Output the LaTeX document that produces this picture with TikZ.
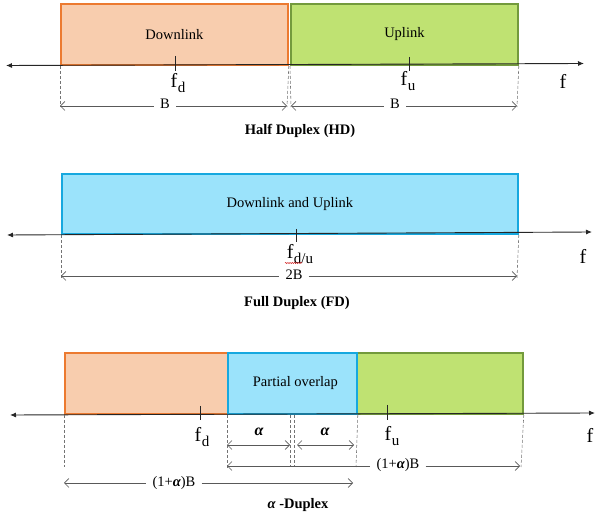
\documentclass[tikz,border=0pt]{standalone}
\usepackage{fontspec}
\setmainfont{Liberation Serif}
\usetikzlibrary{arrows.meta,decorations.pathmorphing}

\definecolor{dlfill}{HTML}{F8CDAE}
\definecolor{dldraw}{HTML}{EC7A30}
\definecolor{ulfill}{HTML}{BFE272}
\definecolor{uldraw}{HTML}{739A3C}
\definecolor{bothfill}{HTML}{9BE3FB}
\definecolor{bothdraw}{HTML}{16A8DF}

\newcommand{\freqlab}[1]{f\kern0.5pt\raisebox{-0.45ex}{\fontsize{15}{15}\selectfont #1}}
\newcommand{\balpha}{{\bfseries\itshape α}}

\begin{document}
\begin{tikzpicture}[x=1pt,y=-1pt,
  band/.style={line width=1.8pt, inner sep=0pt, anchor=north west,
    font=\fontsize{14.5}{16}\selectfont},
  axis/.style={line width=0.9pt, black!85, {Latex[length=6pt,width=5pt]}-{Latex[length=6pt,width=5pt]}},
  tick/.style={line width=0.7pt, black!85},
  guide/.style={densely dashed, black!55, line width=0.55pt},
  dim/.style={black!65, line width=0.7pt},
  dimL/.style={dim, {Straight Barb[length=4.5pt,width=9pt]}-},
  dimR/.style={dim, -{Straight Barb[length=4.5pt,width=9pt]}},
  dimLR/.style={dim, {Straight Barb[length=4.5pt,width=9pt]}-{Straight Barb[length=4.5pt,width=9pt]}},
  dimlab/.style={inner sep=6pt, font=\fontsize{14.5}{16}\selectfont},
  freq/.style={inner sep=0pt, font=\fontsize{20}{21}\selectfont},
  title/.style={font=\fontsize{14.5}{16}\selectfont\bfseries}]

\useasboundingbox (0,0) rectangle (595,518);

% ---------------- Half duplex ----------------
\node[band, fill=dlfill, draw=dldraw, minimum width=227pt, minimum height=61pt] (hdD) at (60,3) {Downlink};
\node[band, fill=ulfill, draw=uldraw, minimum width=227pt, minimum height=61pt] (hdU) at (290,3) {\raisebox{-3pt}{Uplink}};

\coordinate (hdAxL) at (6,65.5);
\coordinate (hdAxR) at (584,63.5);
\draw[axis] (hdAxL) -- (hdAxR);

\coordinate (hdTd1) at (175,56);  \coordinate (hdTd2) at (175,71);
\coordinate (hdTu1) at (409,57);  \coordinate (hdTu2) at (409,71);
\draw[tick] (hdTd1) -- (hdTd2);
\draw[tick] (hdTu1) -- (hdTu2);
\node[freq] (hdfd) at (178,83) {\freqlab{d}};
\node[freq] (hdfu) at (408,81) {\freqlab{u}};
\node[freq] (hdf) at (563,81) {f};

\coordinate (hdG1b) at (60,107);  \coordinate (hdG2b) at (287,107);
\coordinate (hdG3b) at (291,107); \coordinate (hdG4b) at (517,107);
\draw[guide] (hdD.south west) -- (hdG1b);
\draw[guide] (hdD.south east) -- (hdG2b);
\draw[guide] (hdU.south west) -- (hdG3b);
\draw[guide] (hdU.south east) -- (hdG4b);

\coordinate (hdA1) at (60,106);  \coordinate (hdA2) at (287,106);
\coordinate (hdA3) at (291,106); \coordinate (hdA4) at (517,106);
\node[dimlab] (hdB1) at (165,104) {B};
\node[dimlab] (hdB2) at (395,104) {B};
\draw[dimL] (hdA1) -- (hdA1 -| hdB1.west);
\draw[dimR] (hdA2 -| hdB1.east) -- (hdA2);
\draw[dimL] (hdA3) -- (hdA3 -| hdB2.west);
\draw[dimR] (hdA4 -| hdB2.east) -- (hdA4);

\node[title] (hdTitle) at (300,131) {Half Duplex (HD)};

% ---------------- Full duplex ----------------
\node[band, fill=bothfill, draw=bothdraw, minimum width=456pt, minimum height=60pt] (fdBand) at (61,173) {\hspace*{0pt}Downlink and Uplink};

\coordinate (fdAxL) at (7,235);
\coordinate (fdAxR) at (592,232);
\draw[axis] (fdAxL) -- (fdAxR);

\coordinate (fdT1) at (296,229); \coordinate (fdT2) at (296,242);
\draw[tick] (fdT1) -- (fdT2);
\node[freq] (fdfdu) at (300,254) {\freqlab{d/u}};
\coordinate (fdSq1) at (285,263); \coordinate (fdSq2) at (302,263);
\draw[red!80!black, line width=0.4pt, decorate,
  decoration={snake, amplitude=0.6pt, segment length=2.2pt}] (fdSq1) -- (fdSq2);
\node[freq] (fdf) at (583,256) {f};

\coordinate (fdG1b) at (61,278); \coordinate (fdG2b) at (517,278);
\draw[guide] (fdBand.south west) -- (fdG1b);
\draw[guide] (fdBand.south east) -- (fdG2b);
\coordinate (fdA1) at (61,276); \coordinate (fdA2) at (517,276);
\node[dimlab] (fd2B) at (294,275) {2B};
\draw[dimL] (fdA1) -- (fdA1 -| fd2B.west);
\draw[dimR] (fdA2 -| fd2B.east) -- (fdA2);

\node[title] (fdTitle) at (297,303) {Full Duplex (FD)};

% ---------------- alpha duplex ----------------
\node[band, fill=dlfill, draw=dldraw, minimum width=163pt, minimum height=61pt] (adD) at (64,352) {};
\node[band, fill=ulfill, draw=uldraw, minimum width=166pt, minimum height=61pt] (adU) at (356,352) {};
\node[band, fill=bothfill, draw=bothdraw, minimum width=129pt, minimum height=61pt] (adO) at (227,352) {\hspace*{6pt}\raisebox{-2pt}{Partial overlap}};

\coordinate (adAxL) at (10,415);
\coordinate (adAxR) at (595,413);
\draw[axis] (adAxL) -- (adAxR);

\coordinate (adTd1) at (200,406); \coordinate (adTd2) at (200,420);
\coordinate (adTu1) at (387,405); \coordinate (adTu2) at (387,420);
\draw[tick] (adTd1) -- (adTd2);
\draw[tick] (adTu1) -- (adTu2);
\node[freq] (adfd) at (202,437) {\freqlab{d}};
\node[freq] (adfu) at (392,436) {\freqlab{u}};
\node[freq] (adf) at (590,435) {f};

\coordinate (adG1b) at (64,467);  \coordinate (adG2b) at (227,468);
\coordinate (adG3t) at (290,415); \coordinate (adG3b) at (290,466);
\coordinate (adG4t) at (294,415); \coordinate (adG4b) at (294,466);
\coordinate (adG5b) at (356,467); \coordinate (adG6b) at (521,467);
\draw[guide] (adD.south west) -- (adG1b);
\draw[guide] (adO.south west) -- (adG2b);
\draw[guide] (adG3t) -- (adG3b);
\draw[guide] (adG4t) -- (adG4b);
\draw[guide] (adO.south east) -- (adG5b);
\draw[guide] (adU.south east) -- (adG6b);

% overlap halves
\coordinate (ada1) at (227,445); \coordinate (adb1) at (290,445);
\coordinate (ada2) at (297,445); \coordinate (adb2) at (354,445);
\draw[dimLR] (adb1) -- (ada1);
\draw[dimLR] (ada2) -- (adb2);
\node[inner sep=0pt, font=\fontsize{16}{17}\selectfont] (adal1) at (259,432) {\balpha};
\node[inner sep=0pt, font=\fontsize{16}{17}\selectfont] (adal2) at (325,432) {\balpha};

% uplink span
\coordinate (adU1) at (227,466); \coordinate (adU2) at (520,466);
\node[dimlab] (adUlab) at (398,465) {(1+\balpha)B};
\draw[dimL] (adU1) -- (adU1 -| adUlab.west);
\draw[dimR] (adU2 -| adUlab.east) -- (adU2);

% downlink span
\coordinate (adD1) at (64,483); \coordinate (adD2) at (353,483);
\node[dimlab] (adDlab) at (174,483) {(1+\balpha)B};
\draw[dimL] (adD1) -- (adD1 -| adDlab.west);
\draw[dimR] (adD2 -| adDlab.east) -- (adD2);

\node[title] (adTitle) at (298,505) {\balpha\ -Duplex};

\end{tikzpicture}
\end{document}
